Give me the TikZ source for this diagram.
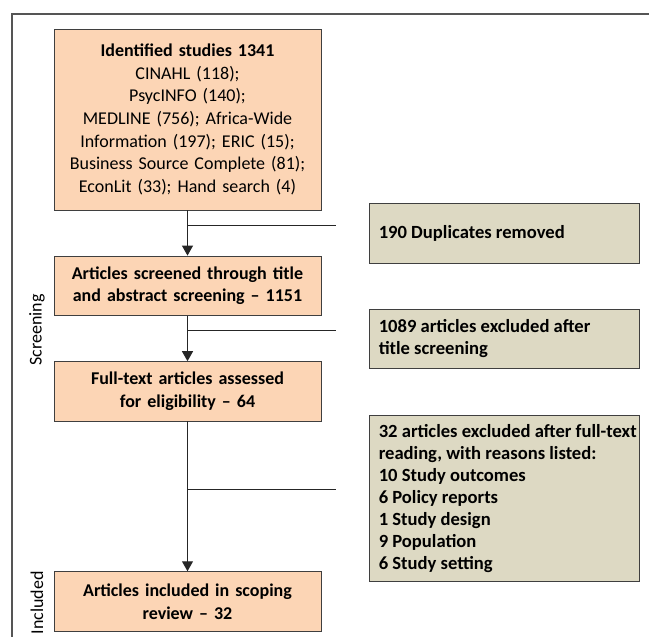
\documentclass[tikz,border=0pt]{standalone}
\usepackage{fontspec}
\setmainfont{Carlito}
\usetikzlibrary{arrows.meta}
\definecolor{orfill}{HTML}{FCD5B5}
\definecolor{grfill}{HTML}{DDD9C3}
\definecolor{edgecol}{HTML}{3F3F3F}
\definecolor{conncol}{HTML}{262626}
\definecolor{framecol}{HTML}{555555}
\begin{document}
\begin{tikzpicture}[x=1pt,y=-1pt,
  orbox/.style={draw=edgecol, line width=0.9pt, fill=orfill, align=center,
    font=\fontsize{18}{22.6}\selectfont, inner sep=0pt, text width=262pt,
    minimum width=267pt},
  grbox/.style={draw=edgecol, line width=0.9pt, fill=grfill, inner sep=0pt,
    minimum width=269.5pt},
  grtext/.style={align=left, anchor=west, inner sep=0pt,
    font=\fontsize{18.6}{22}\selectfont\bfseries},
  conn/.style={draw=conncol, line width=1pt},
  arr/.style={conn, -{Triangle[width=11pt,length=10pt]}},
  stage/.style={rotate=90, font=\fontsize{18}{22}\selectfont, inner sep=0pt},
  framestyle/.style={draw=framecol, line width=1.4pt}
]
\useasboundingbox (0,0) rectangle (649,637);
\fill[white] (0,0) rectangle (649,637);
\draw[framestyle] (12,660) -- (12,14) -- (670,14);

% main column
\node[orbox, minimum height=181pt] (id) at (187.5,119.5)
  {\textbf{Identified studies 1341}\\CINAHL (118);\\PsycINFO (140);\\MEDLINE (756); Africa-Wide\\Information (197); ERIC (15);\\Business Source Complete (81);\\EconLit (33); Hand search (4)};
\node[orbox, minimum height=59.3pt, font=\fontsize{18}{22.3}\selectfont\bfseries] (scr) at (187.5,285.7)
  {Articles screened through title\\and abstract screening -- 1151};
\node[orbox, minimum height=59.3pt, font=\fontsize{18}{22.3}\selectfont\bfseries] (full) at (187.5,391.3)
  {Full-text articles assessed\\for eligibility -- 64};
\node[orbox, minimum height=60pt, font=\fontsize{18}{22.3}\selectfont\bfseries] (inc) at (187.5,601.7)
  {Articles included in scoping\\review -- 32};

% side boxes
\node[grbox, minimum height=60pt] (dup) at (504.25,233.3) {};
\node[grtext] (duptxt) at ([xshift=9.5pt]dup.west) {190 Duplicates removed};
\node[grbox, minimum height=59.3pt] (exc) at (504.25,338.7) {};
\node[grtext] (exctxt) at ([xshift=9.5pt]exc.west) {1089 articles excluded after\\title screening};
\node[grbox, minimum height=165.3pt] (ful) at (504.25,498.4) {};
\node[grtext] (fultxt) at ([xshift=9.5pt]ful.west) {32 articles excluded after full-text\\reading, with reasons listed:\\10 Study outcomes\\6 Policy reports\\1 Study design\\9 Population\\6 Study setting};

% stage labels
\node[stage] (lscr) at (37,330) {Screening};
\node[stage] (linc) at (37,603) {Included};

% connectors
\draw[arr] (id.south) -- (scr.north);
\draw[arr] (scr.south) -- (full.north);
\draw[arr] (full.south) -- (inc.north);

\coordinate (e1) at (336,225.7);
\coordinate (e2) at (336,330.7);
\coordinate (e3) at (336,489);
\draw[conn] (id.south |- e1) -- (e1);
\draw[conn] (scr.south |- e2) -- (e2);
\draw[conn] (full.south |- e3) -- (e3);
\end{tikzpicture}
\end{document}
